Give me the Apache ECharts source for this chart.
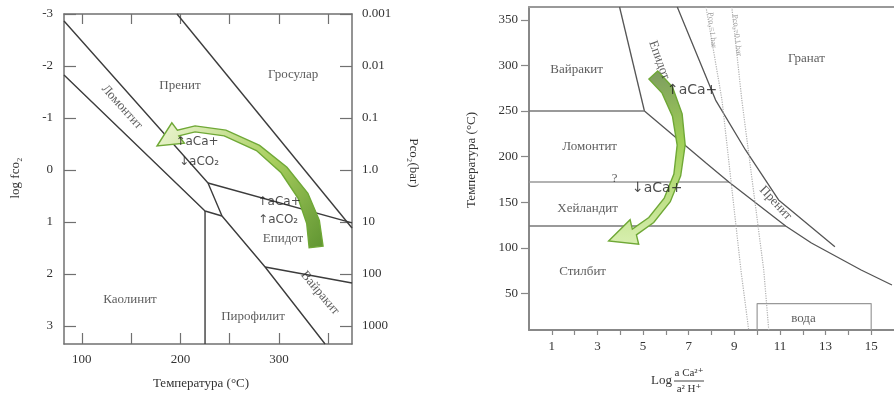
<!DOCTYPE html>
<html><head><meta charset="utf-8">
<script src="https://cdn.jsdelivr.net/npm/echarts@6/dist/echarts.min.js"></script>
<style>html,body{margin:0;padding:0;background:#fff}#c{width:894px;height:396px}</style>
</head><body><div id="c"></div>
<script>
// ---------- LEFT DIAGRAM DATA (T °C vs log fCO2) ----------
const leftTempTicks = [100,150,200,250,300,350];
const leftTempLabels = [100,200,300];
const leftLogTicks = [-3,-2,-1,0,1,2,3];
const leftPco2Labels = ['0.001','0.01','0.1','1.0','10','100','1000'];

const leftLineA = [[82,-2.865],[228,0.252],[242.2,0.887]];
const leftLineB = [[82,-1.826],[225,0.791],[242.2,0.887]];
const leftLineV = [[225,0.791],[225,3.35]];
const leftLineE = [[242.2,0.887],[285.9,1.868],[346.7,3.35]];
const leftLineD = [[285.9,1.868],[374,2.176]];
const leftLineF = [[228,0.252],[374,1.02]];
const leftLineC = [[196.6,-3],[374,1.118]];

const leftPhaseNames = ['Гросулар','Пренит','Ломонтит','Епидот','Каолинит','Пирофилит','Вайракит'];
const leftPhasePos = [[314.3,-1.83],[199.6,-1.63],[140.8,-1.21],[304.1,1.33],[148.9,2.5],[273.7,2.83],[341.6,2.37]];
const leftActNames = ['↑aCa+','↓aCO₂','↑aCa+','↑aCO₂'];
const leftActPos = [[216.9,-0.537],[218.9,-0.152],[300.1,0.617],[299.1,0.964]];

const leftArrowPath = [[337.6,1.483],[334.5,1.002],[324.4,0.502],[305.1,0.002],[278.7,-0.422],[245.3,-0.710],[214.9,-0.790],[197.7,-0.710]];
const leftArrowTip = [176.3,-0.46];

// ---------- RIGHT DIAGRAM DATA (log aCa2+/a2H+ vs T °C) ----------
const rightLogTicks = [1,2,3,4,5,6,7,8,9,10,11,12,13,14,15];
const rightLogLabels = [1,3,5,7,9,11,13,15];
const rightTempTicks = [50,100,150,200,250,300,350];

const rightLine1 = [[3.97,364],[5.06,250]];
const rightH250 = [[0,250],[5.06,250]];
const rightH172 = [[0,172.2],[8.76,172.2]];
const rightH124 = [[0,124],[11.25,124]];
const rightLower = [[5.06,250],[7.76,193],[8.76,172.2],[11.25,124],[12.38,105.3],[14.56,75.8],[15.91,59.3]];
const rightUpper = [[6.5,364],[8.18,262],[9.49,207.3],[10.94,152.5],[13.41,101.3]];
const rightP1 = [[7.76,364],[8.46,262],[9.29,75.7],[9.63,10]];
const rightP01 = [[8.89,364],[9.33,262],[10.29,75.7],[10.51,10]];
const rightWater = [[10,10],[10,39],[15,39],[15,10]];

const rightPhaseNames = ['Вайракит','Ломонтит','Хейландит','Стилбит','Гранат','Епидот','Пренит','вода','?'];
const rightPhasePos = [[2.09,295],[2.66,210.6],[2.57,142.6],[2.35,73.6],[12.16,307],[5.71,305.9],[10.81,149.2],[12.03,22],[3.75,175.5]];
const rightPNames = ['Pco₂=1 bar','Pco₂=0.1 bar'];
const rightPPos = [[8.02,338.8],[9.11,333]];
const rightActNames = ['↑aCa+','↓aCa+'];
const rightActPos = [[7.15,273],[5.62,165.6]];

const rightArrowPath = [[5.45,289.5],[6.06,273],[6.50,245.6],[6.67,212.7],[6.50,179.9],[6.06,152.5],[5.36,130.6],[4.62,117.4]];
const rightArrowTip = [3.49,107.5];

// ---------- STYLE ----------
const SERIF = '"Liberation Serif", "DejaVu Serif", serif';
const SANS = '"DejaVu Sans", sans-serif';
const TXT = '#333';

function arrowRender(path, tip, widths, headW, grad) {
  return function (params, api) {
    if (params.dataIndex !== 0) return null;
    const pts = path.map(p => api.coord(p));
    const tp = api.coord(tip);
    const L = [], R = [];
    for (let i = 0; i < pts.length; i++) {
      const a = pts[Math.max(0, i - 1)], b = pts[Math.min(pts.length - 1, i + 1)];
      let dx = b[0] - a[0], dy = b[1] - a[1];
      const len = Math.hypot(dx, dy) || 1; dx /= len; dy /= len;
      const nx = -dy, ny = dx, w = widths[i] / 2;
      L.push([pts[i][0] + nx * w, pts[i][1] + ny * w]);
      R.push([pts[i][0] - nx * w, pts[i][1] - ny * w]);
    }
    const base = pts[pts.length - 1];
    let hx = tp[0] - base[0], hy = tp[1] - base[1];
    const hl = Math.hypot(hx, hy) || 1; hx /= hl; hy /= hl;
    const hnx = -hy, hny = hx;
    const bL = [base[0] + hnx * headW / 2, base[1] + hny * headW / 2];
    const bR = [base[0] - hnx * headW / 2, base[1] - hny * headW / 2];
    const points = L.concat([bL, tp, bR]).concat(R.slice().reverse());
    return {
      type: 'polygon',
      shape: { points: points },
      style: { fill: grad, stroke: '#6fa836', lineWidth: 1.4 }
    };
  };
}

function lineSeries(data, xi, yi, color, width, type) {
  return {
    type: 'line', xAxisIndex: xi, yAxisIndex: yi, data: data, symbol: 'none',
    silent: true, animation: false, z: 2,
    lineStyle: { color: color, width: width, type: type || 'solid' }
  };
}

function labelSeries(names, pos, xi, yi, font, size, color, rots) {
  return {
    type: 'scatter', xAxisIndex: xi, yAxisIndex: yi, symbolSize: 0, silent: true, animation: false, z: 5,
    data: names.map((n, i) => ({
      name: n, value: pos[i],
      label: { rotate: rots ? rots[i] : 0 }
    })),
    label: {
      show: true, position: 'inside', formatter: '{b}',
      fontFamily: font, fontSize: size, color: color
    }
  };
}

const axisCol = '#707070';
const chart = echarts.init(document.getElementById('c'), null, { renderer: 'canvas' });

const option = {
  animation: false,
  backgroundColor: '#fff',
  grid: [
    { left: 64, top: 14, right: 542, bottom: 52 },
    { left: 529, top: 7, right: -2, bottom: 66 }
  ],
  xAxis: [
    { gridIndex: 0, type: 'value', min: 82, max: 374, position: 'bottom',
      axisLine: { onZero: false, lineStyle: { color: axisCol, width: 1.5 } },
      axisTick: { inside: true, length: 11, customValues: leftTempTicks, lineStyle: { color: axisCol, width: 1.2 } },
      axisLabel: { customValues: leftTempLabels, margin: 9, fontFamily: SERIF, fontSize: 13, color: TXT },
      splitLine: { show: false } },
    { gridIndex: 0, type: 'value', min: 82, max: 374, position: 'top',
      axisLine: { onZero: false, lineStyle: { color: axisCol, width: 1.5 } },
      axisTick: { inside: true, length: 10, customValues: leftTempTicks, lineStyle: { color: axisCol, width: 1.2 } },
      axisLabel: { show: false }, splitLine: { show: false } },
    { gridIndex: 1, type: 'value', min: 0, max: 16, position: 'bottom',
      axisLine: { onZero: false, lineStyle: { color: '#888', width: 2 } },
      axisTick: { inside: false, length: 5, customValues: rightLogTicks, lineStyle: { color: '#888', width: 1.2 } },
      axisLabel: { customValues: rightLogLabels, margin: 10, fontFamily: SERIF, fontSize: 13, color: TXT },
      splitLine: { show: false } },
    { gridIndex: 1, type: 'value', min: 0, max: 16, position: 'top',
      axisLine: { onZero: false, lineStyle: { color: '#999', width: 2 } },
      axisTick: { show: false }, axisLabel: { show: false }, splitLine: { show: false } }
  ],
  yAxis: [
    { gridIndex: 0, type: 'value', min: -3, max: 3.35, inverse: true, position: 'left',
      axisLine: { onZero: false, lineStyle: { color: axisCol, width: 1.5 } },
      axisTick: { inside: true, length: 12, customValues: leftLogTicks, lineStyle: { color: axisCol, width: 1.2 } },
      axisLabel: { customValues: leftLogTicks, margin: 11, fontFamily: SERIF, fontSize: 13, color: TXT },
      splitLine: { show: false } },
    { gridIndex: 0, type: 'value', min: -3, max: 3.35, inverse: true, position: 'right',
      axisLine: { onZero: false, lineStyle: { color: axisCol, width: 1.5 } },
      axisTick: { inside: true, length: 12, customValues: leftLogTicks, lineStyle: { color: axisCol, width: 1.2 } },
      axisLabel: { customValues: leftLogTicks, margin: 10, fontFamily: SERIF, fontSize: 13, color: TXT,
        formatter: v => leftPco2Labels[Math.round(v) + 3] },
      splitLine: { show: false } },
    { gridIndex: 1, type: 'value', min: 10, max: 364, position: 'left',
      axisLine: { onZero: false, lineStyle: { color: '#888', width: 2 } },
      axisTick: { inside: false, length: 8, customValues: rightTempTicks, lineStyle: { color: '#888', width: 1.2 } },
      axisLabel: { customValues: rightTempTicks, margin: 11, fontFamily: SERIF, fontSize: 13, color: TXT },
      splitLine: { show: false } }
  ],
  series: [
    lineSeries(leftLineA, 0, 0, '#3c3c3c', 1.4),
    lineSeries(leftLineB, 0, 0, '#3c3c3c', 1.4),
    lineSeries(leftLineV, 0, 0, '#3c3c3c', 1.4),
    lineSeries(leftLineE, 0, 0, '#3c3c3c', 1.4),
    lineSeries(leftLineD, 0, 0, '#3c3c3c', 1.4),
    lineSeries(leftLineF, 0, 0, '#3c3c3c', 1.4),
    lineSeries(leftLineC, 0, 0, '#3c3c3c', 1.4),

    lineSeries(rightLine1, 2, 2, '#555', 1.3),
    lineSeries(rightH250, 2, 2, '#777', 1.6),
    lineSeries(rightH172, 2, 2, '#999', 1.4),
    lineSeries(rightH124, 2, 2, '#777', 1.6),
    lineSeries(rightLower, 2, 2, '#555', 1.3),
    lineSeries(rightUpper, 2, 2, '#555', 1.3),
    lineSeries(rightP1, 2, 2, '#b0b0b0', 1.2, 'dotted'),
    lineSeries(rightP01, 2, 2, '#b0b0b0', 1.2, 'dotted'),
    lineSeries(rightWater, 2, 2, '#999', 1.2),

    { type: 'custom', xAxisIndex: 0, yAxisIndex: 0, silent: true, z: 3, clip: false,
      data: [leftArrowPath[0]],
      renderItem: arrowRender(leftArrowPath, leftArrowTip, [14, 13, 11, 8, 6, 6, 6, 6], 24,
        new echarts.graphic.LinearGradient(1, 1, 0, 0, [
          { offset: 0, color: '#5f9431' }, { offset: 0.45, color: '#a9cf5f' }, { offset: 1, color: '#eef6d6' }])) },
    { type: 'custom', xAxisIndex: 2, yAxisIndex: 2, silent: true, z: 3, clip: false,
      data: [rightArrowPath[0]],
      renderItem: arrowRender(rightArrowPath, rightArrowTip, [12, 12, 10, 8, 7, 7, 7, 7], 26,
        new echarts.graphic.LinearGradient(0, 0, 0, 1, [
          { offset: 0, color: '#7d9c60' }, { offset: 0.4, color: '#9fcf55' }, { offset: 1, color: '#d8efb0' }])) },

    labelSeries(leftPhaseNames, leftPhasePos, 0, 0, SERIF, 13, TXT, [0, 0, -48, 0, 0, 0, -50]),
    labelSeries(leftActNames, leftActPos, 0, 0, SANS, 12, '#222'),
    labelSeries(rightPhaseNames, rightPhasePos, 2, 2, SERIF, 13, TXT, [0, 0, 0, 0, 0, -70, -47, 0, 0]),
    labelSeries(rightPNames, rightPPos, 2, 2, SERIF, 8, '#888', [-84, -84]),
    labelSeries(rightActNames, rightActPos, 2, 2, SANS, 14, '#222')
  ],
  graphic: [
    { type: 'text', x: 16, y: 178, rotation: Math.PI / 2,
      style: { text: 'log fco₂', fontFamily: SERIF, fontSize: 13, fill: TXT, align: 'center', verticalAlign: 'middle' } },
    { type: 'text', x: 413, y: 163, rotation: -Math.PI / 2,
      style: { text: 'Pco₂(bar)', fontFamily: SERIF, fontSize: 13, fill: TXT, align: 'center', verticalAlign: 'middle' } },
    { type: 'text', x: 201, y: 384,
      style: { text: 'Температура (°C)', fontFamily: SERIF, fontSize: 13, fill: TXT, align: 'center', verticalAlign: 'middle' } },
    { type: 'text', x: 472, y: 160, rotation: Math.PI / 2,
      style: { text: 'Температура (°C)', fontFamily: SERIF, fontSize: 13, fill: TXT, align: 'center', verticalAlign: 'middle' } },
    { type: 'text', x: 672, y: 381,
      style: { text: 'Log', fontFamily: SERIF, fontSize: 13, fill: TXT, align: 'right', verticalAlign: 'middle' } },
    { type: 'text', x: 689, y: 373,
      style: { text: 'a Ca²⁺', fontFamily: SERIF, fontSize: 11, fill: TXT, align: 'center', verticalAlign: 'middle' } },
    { type: 'line', shape: { x1: 674, y1: 381, x2: 704, y2: 381 }, style: { stroke: '#444', lineWidth: 1 } },
    { type: 'text', x: 689, y: 389,
      style: { text: 'a² H⁺', fontFamily: SERIF, fontSize: 11, fill: TXT, align: 'center', verticalAlign: 'middle' } }
  ]
};
chart.setOption(option);
</script></body></html>
